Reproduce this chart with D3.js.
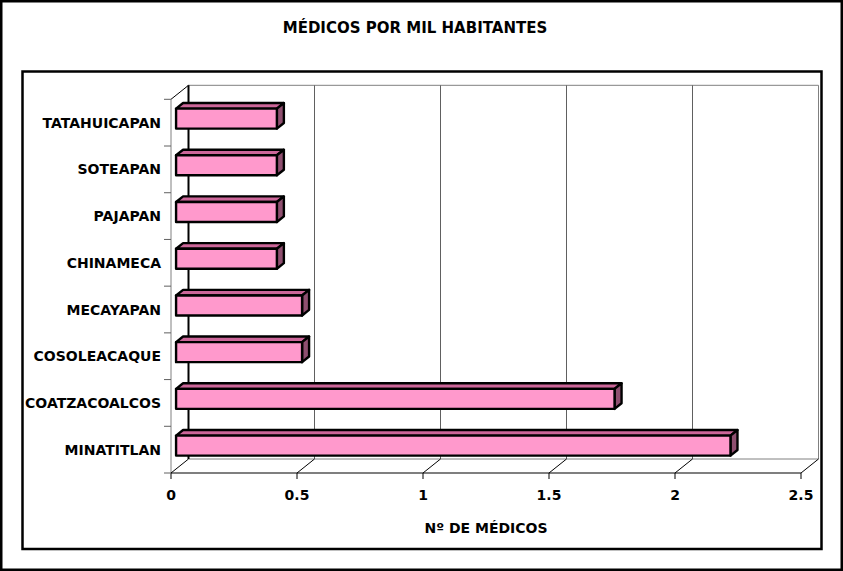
<!DOCTYPE html>
<html><head><meta charset="utf-8">
<script src="https://cdn.jsdelivr.net/npm/d3@7"></script>
<style>html,body{margin:0;padding:0;background:#fff;}svg{display:block;}</style>
</head><body>
<svg id="c" width="843" height="571"></svg>
<script>
const categories = ["TATAHUICAPAN","SOTEAPAN","PAJAPAN","CHINAMECA","MECAYAPAN","COSOLEACAQUE","COATZACOALCOS","MINATITLAN"];
const values = [0.4, 0.4, 0.4, 0.4, 0.5, 0.5, 1.74, 2.2];
const tickValues = [0, 0.5, 1, 1.5, 2, 2.5];
const tickLabels = ["0", "0.5", "1", "1.5", "2", "2.5"];
const title = "MÉDICOS POR MIL HABITANTES";
const xTitle = "Nº DE MÉDICOS";

const svg = d3.select("#c");
const FONT = "'DejaVu Sans', Verdana, sans-serif";
const DX = 17.5, DY = -14;           // depth projection
const D0 = 0.29, D1 = 0.69;          // bar depth extent
const x = d3.scaleLinear().domain([0, 2.5]).range([171, 801]);
const y = d3.scaleBand().domain(categories).range([99.3, 473]);
const P = (px, py, d) => [px + d * DX, py + d * DY];

// outer border
svg.append("rect").attr("x",1.25).attr("y",1.25).attr("width",840.5).attr("height",568.5)
  .attr("fill","#fff").attr("stroke","#000").attr("stroke-width",2.5);
// plot area border
svg.append("rect").attr("x",22.5).attr("y",71.5).attr("width",799).attr("height",477.5)
  .attr("fill","#fff").attr("stroke","#000").attr("stroke-width",2.5);

svg.append("text").attr("x",415).attr("y",28).attr("text-anchor","middle").attr("dominant-baseline","central")
  .attr("font-family",FONT).attr("font-weight","bold").attr("font-size",15).text(title);

const yTop = y.range()[0], yBot = y.range()[1];
const line = d3.line();
// back wall
const bw = [P(x(0),yTop,1), P(x(2.5),yTop,1), P(x(2.5),yBot,1), P(x(0),yBot,1)];
svg.append("path").attr("d", line(bw)+"Z").attr("fill","none").attr("stroke","#808080").attr("stroke-width",1);
// gridlines on back wall
svg.selectAll(".grid").data(tickValues.slice(1,-1)).join("path")
  .attr("d", v => line([P(x(v),yTop,1), P(x(v),yBot,1)]))
  .attr("stroke","#606060").attr("stroke-width",1);
svg.append("path").attr("d", line([P(x(0),yTop,1), P(x(0),yBot,1)])).attr("stroke","#000").attr("stroke-width",2);
// left wall
svg.append("path").attr("d", line([P(x(0),yTop,0), P(x(0),yTop,1)])).attr("stroke","#000").attr("stroke-width",1);
svg.append("path").attr("d", line([P(x(0),yTop,0), P(x(0),yBot,0)])).attr("stroke","#808080").attr("stroke-width",1);
// floor
svg.append("path").attr("d", line([P(x(0),yBot,0), P(x(2.5),yBot,0)])).attr("stroke","#000").attr("stroke-width",1.2);
svg.selectAll(".fd").data(tickValues).join("path")
  .attr("d", v => line([P(x(v),yBot,0), P(x(v),yBot,1)]))
  .attr("stroke","#000").attr("stroke-width",1);
// x ticks
svg.selectAll(".xt").data(tickValues).join("path")
  .attr("d", v => line([[x(v),yBot],[x(v),yBot+6]])).attr("stroke","#000").attr("stroke-width",1);
svg.selectAll(".xl").data(tickValues).join("text")
  .attr("x", v => x(v)).attr("y", 494.5).attr("text-anchor","middle").attr("dominant-baseline","central")
  .attr("font-family",FONT).attr("font-weight","bold").attr("font-size",14)
  .text((v,i) => tickLabels[i]);
// category ticks
const bounds = categories.map(c => y(c)).concat([yBot]);
svg.selectAll(".yt").data(bounds).join("path")
  .attr("d", b => line([[x(0)-7,b],[x(0),b]])).attr("stroke","#606060").attr("stroke-width",1);
svg.selectAll(".yl").data(categories).join("text")
  .attr("x", 161).attr("y", c => y(c)+y.bandwidth()/2).attr("text-anchor","end").attr("dominant-baseline","central")
  .attr("font-family",FONT).attr("font-weight","bold").attr("font-size",14).text(c => c);

// bars
const H = 20;
const g = svg.append("g").attr("stroke","#000").attr("stroke-width",2.4).attr("stroke-linejoin","round");
categories.forEach((c, i) => {
  const v = values[i];
  const cy = y(c) + y.bandwidth()/2;
  const t = cy - H/2, b = cy + H/2;
  const x0 = x(0), x1 = x(v);
  const front = [P(x0,t,D0), P(x1,t,D0), P(x1,b,D0), P(x0,b,D0)];
  const top = [P(x0,t,D0), P(x1,t,D0), P(x1,t,D1), P(x0,t,D1)];
  const side = [P(x1,t,D0), P(x1,t,D1), P(x1,b,D1), P(x1,b,D0)];
  g.append("path").attr("d", line(top)+"Z").attr("fill","#CC6699");
  g.append("path").attr("d", line(side)+"Z").attr("fill","#8F4F70");
  g.append("path").attr("d", line(front)+"Z").attr("fill","#FF99CC");
});

svg.append("text").attr("x",486).attr("y",528).attr("text-anchor","middle").attr("dominant-baseline","central")
  .attr("font-family",FONT).attr("font-weight","bold").attr("font-size",14).text(xTitle);
</script>
</body></html>
